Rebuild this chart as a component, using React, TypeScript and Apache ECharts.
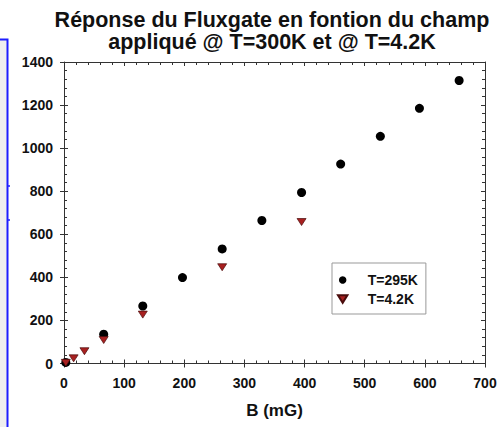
import React, { useEffect, useRef } from 'react';
import * as echarts from 'echarts';

const TITLE_LINES = ['Réponse du Fluxgate en fontion du champ', 'appliqué @ T=300K et @ T=4.2K'];
const X_NAME = 'B (mG)';
const SERIES_NAMES = ['T=295K', 'T=4.2K'];

// T=295K (black circles)
const B_295 = [3, 66, 131, 197, 263, 329, 395, 460, 526, 591, 657];
const V_295 = [5, 136, 267, 399, 532, 664, 794, 926, 1055, 1185, 1314];
// T=4.2K (red down triangles)
const B_42 = [3, 16, 34, 66, 131, 263, 395];
const V_42 = [3, 24, 57, 109, 227, 447, 657];

const X_MIN = 0;
const X_MAX = 700;
const X_STEP = 100;
const Y_MIN = 0;
const Y_MAX = 1400;
const Y_STEP = 200;

const FONT = '"Liberation Sans", Arial, Helvetica, sans-serif';
const TRI_DOWN = 'path://M0,0L10,0L5,8Z';
const AXIS_COLOR = '#333';

export default function App() {
  const ref = useRef<HTMLDivElement>(null);

  useEffect(() => {
    const chart = echarts.init(ref.current!, null, { renderer: 'svg' });

    const line = { show: true, onZero: false, lineStyle: { color: AXIS_COLOR, width: 1 } };
    const noLine = { show: false, onZero: false };
    const tickStyle = { color: AXIS_COLOR, width: 1 };
    const label = {
      color: '#111',
      fontFamily: FONT,
      fontWeight: 'bold' as const,
      fontSize: 14,
      formatter: (v: number) => String(v),
    };
    const xBase = { type: 'value' as const, min: X_MIN, max: X_MAX, interval: X_STEP, splitLine: { show: false } };
    const yBase = { type: 'value' as const, min: Y_MIN, max: Y_MAX, interval: Y_STEP, splitLine: { show: false } };

    chart.setOption({
      animation: false,
      backgroundColor: '#fff',
      grid: { left: 64, right: 15, top: 62, bottom: 63.5, containLabel: false },
      xAxis: [
        {
          ...xBase,
          position: 'bottom',
          axisLine: line,
          axisTick: { show: true, inside: true, length: 4, lineStyle: tickStyle },
          minorTick: { show: true, splitNumber: 5, length: 3, lineStyle: tickStyle },
          axisLabel: { ...label, margin: 12 },
          name: X_NAME,
          nameLocation: 'middle',
          nameGap: 38,
          nameTextStyle: { color: '#111', fontFamily: FONT, fontWeight: 'bold', fontSize: 17 },
        },
        {
          ...xBase,
          position: 'bottom',
          axisLine: noLine,
          axisTick: { show: true, inside: false, length: 4, lineStyle: tickStyle },
          axisLabel: { show: false },
        },
        {
          ...xBase,
          position: 'top',
          axisLine: line,
          axisTick: { show: true, inside: true, length: 4, lineStyle: tickStyle },
          minorTick: { show: true, splitNumber: 5, length: 3, lineStyle: tickStyle },
          axisLabel: { show: false },
        },
      ],
      yAxis: [
        {
          ...yBase,
          position: 'left',
          axisLine: line,
          axisTick: { show: true, inside: true, length: 4, lineStyle: tickStyle },
          minorTick: { show: true, splitNumber: 5, length: 3, lineStyle: tickStyle },
          axisLabel: { ...label, margin: 11 },
        },
        {
          ...yBase,
          position: 'left',
          axisLine: noLine,
          axisTick: { show: true, inside: false, length: 4, lineStyle: tickStyle },
          axisLabel: { show: false },
        },
        {
          ...yBase,
          position: 'right',
          axisLine: line,
          axisTick: { show: true, inside: true, length: 4, lineStyle: tickStyle },
          minorTick: { show: true, splitNumber: 5, length: 3, lineStyle: tickStyle },
          axisLabel: { show: false },
        },
      ],
      legend: {
        orient: 'vertical',
        left: 332,
        top: 263,
        padding: [10, 8, 8, 5],
        itemGap: 5,
        itemWidth: 40,
        itemHeight: 7.5,
        backgroundColor: '#fff',
        borderColor: '#999',
        borderWidth: 1,
        data: [
          { name: SERIES_NAMES[0], icon: 'circle' },
          { name: SERIES_NAMES[1], icon: TRI_DOWN },
        ],
        textStyle: { color: '#111', fontFamily: FONT, fontWeight: 'bold', fontSize: 14 },
      },
      series: [
        {
          name: SERIES_NAMES[0],
          type: 'scatter',
          xAxisIndex: 0,
          yAxisIndex: 0,
          symbol: 'circle',
          symbolSize: 9,
          itemStyle: { color: '#000', opacity: 1 },
          data: B_295.map((b, i) => [b, V_295[i]]),
        },
        {
          name: SERIES_NAMES[1],
          type: 'scatter',
          xAxisIndex: 0,
          yAxisIndex: 0,
          symbol: TRI_DOWN,
          symbolSize: [9, 7],
          itemStyle: { color: '#a82020', borderColor: '#4a0c0c', borderWidth: 0.7, opacity: 1 },
          data: B_42.map((b, i) => [b, V_42[i]]),
        },
      ],
      graphic: [
        {
          type: 'rect',
          silent: true,
          shape: { x: -4, y: 39.5, width: 11.5, height: 400 },
          style: { fill: '#efefef', stroke: '#1e1eff', lineWidth: 2 },
        },
        {
          type: 'line',
          silent: true,
          shape: { x1: 8, y1: 186, x2: 10, y2: 186 },
          style: { stroke: '#1e1eff', lineWidth: 1.5 },
        },
        {
          type: 'line',
          silent: true,
          shape: { x1: 8, y1: 220, x2: 10, y2: 220 },
          style: { stroke: '#1e1eff', lineWidth: 1.5 },
        },
        {
          type: 'text',
          silent: true,
          x: 272,
          y: 8.5,
          style: {
            text: TITLE_LINES.join('\n'),
            fill: '#111',
            font: `bold 21.5px ${FONT}`,
            lineHeight: 22,
            textAlign: 'center',
            textVerticalAlign: 'top',
          },
        },
      ],
    });

    return () => chart.dispose();
  }, []);

  return (
    <div
      ref={ref}
      style={{ position: 'absolute', left: 0, top: 0, width: 500, height: 427, background: '#fff' }}
    />
  );
}
